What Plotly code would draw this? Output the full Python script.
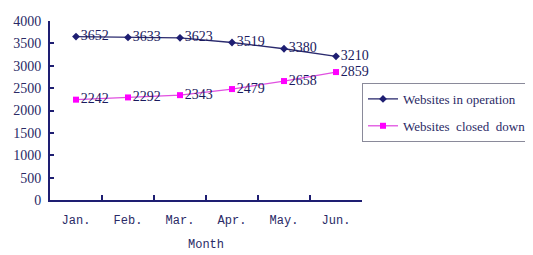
import plotly.graph_objects as go

months = ["Jan.", "Feb.", "Mar.", "Apr.", "May.", "Jun."]
in_operation = [3652, 3633, 3623, 3519, 3380, 3210]
closed_down = [2242, 2292, 2343, 2479, 2658, 2859]
y_ticks = [0, 500, 1000, 1500, 2000, 2500, 3000, 3500, 4000]

navy = "#1e1e72"
text_col = "#2a2a66"
font_num = "Liberation Serif"
font_mono = "Liberation Mono"

fig = go.Figure()
fig.add_trace(go.Scatter(
    x=months, y=in_operation, name="Websites in operation",
    mode="lines+markers+text", text=[str(v) for v in in_operation],
    textposition="middle right",
    textfont=dict(family=font_num, size=14, color="#1a1a5e"),
    line=dict(color="#2a2a6e", width=1.3),
    marker=dict(symbol="diamond", size=6, color=navy),
    legendgroup="a",
))
fig.add_trace(go.Scatter(
    x=months, y=closed_down, name="Websites  closed  down",
    mode="lines+markers+text", text=[str(v) for v in closed_down],
    textposition="middle right",
    textfont=dict(family=font_num, size=14, color="#1a1a5e"),
    line=dict(color="#e050e0", width=1.3),
    marker=dict(symbol="square", size=6, color="#ff00ff"),
    legendgroup="b",
))

fig.update_layout(
    width=533, height=255,
    margin=dict(l=42, r=179, t=13, b=63, autoexpand=False),
    paper_bgcolor="white", plot_bgcolor="white",
    showlegend=True,
    legend=dict(
        x=1.0, xanchor="left", y=0.654, yanchor="top",
        bordercolor="#8a8a9a", borderwidth=1, bgcolor="white",
        font=dict(family=font_num, size=13, color=text_col),
        tracegroupgap=7, traceorder="grouped", itemwidth=30,
    ),
    xaxis=dict(
        type="category", showgrid=False, showline=True, linecolor=navy, linewidth=2,
        ticks="inside", ticklen=5, tickcolor=navy, tickwidth=2, tickson="boundaries",
        tickfont=dict(family=font_mono, size=12, color=text_col),
        ticklabelstandoff=8,
        title=dict(text="Month", font=dict(family=font_mono, size=12, color=text_col), standoff=12),
        range=[-0.5, 5.5], fixedrange=True,
    ),
    yaxis=dict(
        range=[0, 4000], tickvals=y_ticks, showgrid=False, zeroline=False,
        showline=True, linecolor=navy, linewidth=2,
        ticks="inside", ticklen=4, tickcolor=navy, tickwidth=2,
        tickfont=dict(family=font_num, size=14, color=text_col),
        ticklabelstandoff=4,
    ),
)
fig.update_traces(cliponaxis=False)

fig.write_html("out.html")
